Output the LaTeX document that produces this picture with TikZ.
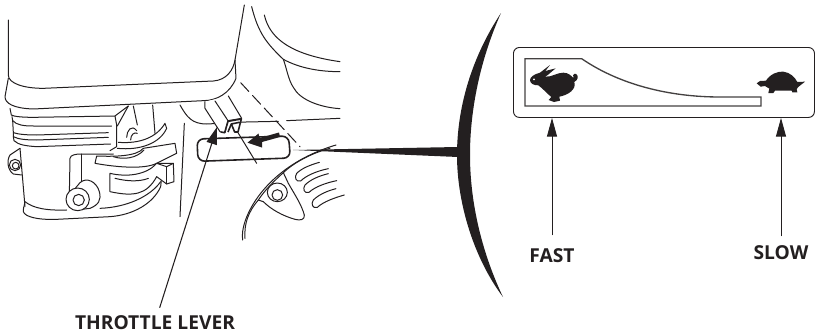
\documentclass[tikz,border=0pt]{standalone}
\usepackage{fontspec}
\setmainfont{Open Sans}
\usetikzlibrary{arrows.meta}
\definecolor{ink}{HTML}{231F20}
\tikzset{
  ln/.style={draw=ink,line width=0.75pt,line join=round,line cap=round},
  thk/.style={draw=ink,line width=1.2pt,line join=round},
  lbl/.style={inner sep=0pt,font=\bfseries\fontsize{14.4pt}{16pt}\selectfont,text=ink},
  ldr/.style={draw=ink,line width=0.7pt,-{Triangle[length=14pt,width=7.5pt]}}
}
\begin{document}
\begin{tikzpicture}[x=0.75pt,y=-0.75pt]
\useasboundingbox (0,0) rectangle (815,336);
% --- engine, coordinates of the 3x crop
\begin{scope}[scale=1/3]
% tank and lip
\draw[ln] (25,60) -- (25,225) .. controls (25,250) and (70,265) .. (130,265) -- (640,243) .. controls (680,240) and (700,210) .. (705,180) -- (733,15);
\draw[ln] (25,235) -- (15,290) .. controls (15,310) and (40,325) .. (100,327) -- (610,302) .. controls (650,302) and (690,280) .. (708,235) -- (705,180);
% fins
\draw[ln] (30,325) -- (34,345) .. controls (42,350) and (70,352) .. (100,352) -- (345,348) -- (385,318);
\draw[ln] (36,350) -- (38,362) .. controls (50,375) and (70,378) .. (100,378) -- (335,378);
\draw[ln] (38,362) -- (40,398) .. controls (55,403) and (80,405) .. (110,405) -- (325,398);
\draw[ln] (40,398) -- (40,410) .. controls (55,418) and (80,420) .. (110,420) -- (325,412);
\draw[ln] (40,410) -- (42,422) .. controls (55,435) and (80,438) .. (110,440) -- (332,432);
\draw[ln] (345,348) -- (350,375) -- (350,440) -- (330,452);
\draw[ln] (385,318) -- (352,378);
\draw[ln] (400,318) -- (412,375);
\draw[ln] (458,315) -- (465,400);
\draw[ln] (380,412) .. controls (380,392) and (395,372) .. (410,392);
\draw[ln] (392,420) .. controls (392,405) and (402,395) .. (412,400);
% crescent
\draw[ln] (355,427) .. controls (420,432) and (470,412) .. (495,370) -- (500,385) .. controls (480,430) and (420,452) .. (352,445);
% left lug
\draw[ln] (60,445) -- (30,465) .. controls (20,480) and (22,510) .. (40,522) -- (65,525);
\draw[ln] (45,495) circle (17);
\draw[ln] (47,497) circle (10);
% casing
\draw[ln] (60,445) -- (75,620);
\draw[ln] (75,605) .. controls (72,625) and (68,625) .. (70,635) .. controls (75,650) and (110,660) .. (170,658) -- (330,650) .. controls (400,645) and (460,610) .. (482,560) -- (484,540);
\draw[ln] (75,605) .. controls (100,625) and (140,632) .. (200,630);
\draw[ln] (300,625) .. controls (380,622) and (450,590) .. (482,545);
\draw[ln] (208,585) -- (210,475) .. controls (212,465) and (225,462) .. (245,462) -- (340,462);
\draw[ln] (245,462) -- (245,545);
% boss
\draw[ln,fill=white] (205,590) -- (240,548) .. controls (260,530) and (290,545) .. (298,575) .. controls (305,600) and (295,615) .. (270,625) -- (230,630) .. controls (205,625) and (195,605) .. (205,590) -- cycle;
\draw[ln,fill=white] (233,598) ellipse (35 and 34);
\draw[ln,fill=white] (236,600) circle (17);
% levers
\draw[ln,fill=white] (290,468) .. controls (340,470) and (410,470) .. (430,445) -- (525,430) -- (530,460) -- (470,490) .. controls (430,510) and (340,500) .. (285,490) -- cycle;
\draw[ln] (340,470) .. controls (370,480) and (410,475) .. (432,450);
\draw[ln,fill=white] (330,520) .. controls (380,532) and (440,525) .. (470,490) -- (520,490) -- (522,545) -- (500,552) -- (470,530) .. controls (440,585) and (400,590) .. (330,575) -- cycle;
\draw[ln] (500,500) -- (500,552);
\draw[ln] (470,490) -- (500,500) -- (520,490);
\draw[ln] (345,535) .. controls (385,545) and (420,545) .. (445,535);
% frame
\draw[ln] (553,370) -- (540,650);
\draw[ln] (540,315) .. controls (560,350) and (575,372) .. (620,372) -- (660,370);
\draw[ln] (690,367) -- (835,364);
\draw[ln] (860,362) -- (1020,355);
% upper right
\draw[ln] (755,20) .. controls (775,100) and (800,130) .. (850,178) .. controls (860,205) and (865,240) .. (880,262) .. controls (900,300) and (960,322) .. (1020,326);
\draw[ln] (793,45) .. controls (810,120) and (880,165) .. (1020,185);
\draw[ln] (850,178) .. controls (900,205) and (960,215) .. (1020,215);
% dashed
\draw[ln,dash pattern=on 9pt off 4pt] (722,248) -- (900,440);
% selector plate
\draw[thk,rounded corners=5pt] (591,417) -- (866,408) -- (871,474) -- (594,484) -- cycle;
% lever
\draw[ln,fill=white] (615,305) -- (615,325) -- (660,395) -- (675,398) -- (684,362) -- (725,355) -- (685,288);
\draw[ln] (645,303) -- (684,362);
\draw[thk,fill=white] (662,396) -- (674,398) -- (684,364) -- (724,357) -- (714,396) -- (704,396) -- (694,372) -- (718,367);
\draw[thk] (694,372) -- (684,396);
\draw[ln] (714,398) -- (770,490);
\end{scope}
% motion arrow
\fill[ink] (279,132.5) -- (280,137) -- (262,142) -- (262,147.5) -- (247.5,142.7) -- (258.5,133.5) -- (259.5,138) -- cycle;
% --- disc, crop offset
\begin{scope}[shift={(220,130)},scale=1/3]
\draw[ln] (68,330) .. controls (58,270) and (130,110) .. (348,45);
\draw[ln] (75,325) .. controls (72,280) and (85,245) .. (115,210) .. controls (135,180) and (160,155) .. (190,128) .. controls (230,90) and (290,65) .. (330,55);
\draw[ln] (190,128) -- (205,160) .. controls (225,195) and (245,225) .. (253,255) .. controls (255,270) and (240,272) .. (225,268) .. controls (190,258) and (155,240) .. (130,215) -- (115,210);
\draw[ln,fill=white] (172,187) ellipse (30 and 28);
\draw[ln] (172,195) circle (16);
\draw[ln] (298,97) .. controls (270,105) and (245,115) .. (230,130) .. controls (222,142) and (228,157) .. (242,153) .. controls (260,135) and (295,122) .. (325,116);
\draw[ln] (325,131) .. controls (295,138) and (270,150) .. (255,165) .. controls (247,177) and (253,192) .. (267,187) .. controls (285,170) and (320,158) .. (350,152);
\draw[ln] (348,176) .. controls (320,183) and (295,195) .. (280,210) .. controls (272,222) and (278,237) .. (292,232) .. controls (310,215) and (345,203) .. (373,195);
\end{scope}
% wedge and crescent
\fill[ink] (293,150) -- (458,147) -- (458,157) -- cycle;
\fill[ink] (501,13) .. controls (470,60) and (457,110) .. (457,155) .. controls (457,205) and (475,260) .. (503,297) .. controls (483,255) and (470,205) .. (470,155) .. controls (470,110) and (480,60) .. (501,13) -- cycle;
% --- plate
\node[draw=ink,line width=0.7pt,rounded corners=4.5pt,minimum width=225.75pt,minimum height=52.5pt,inner sep=0pt,anchor=north west] (plate) at (513,47) {};
\draw[draw=ink!85,line width=1pt,line join=miter] (525,58.7) -- (581.7,58.7) .. controls (620,85) and (670,97) .. (720,97) -- (761,97) -- (761,106) -- (525,106) -- cycle;
% rabbit
\begin{scope}[shift={(510,50)},scale=1/3]
\fill[ink] (60,90) .. controls (60,80) and (75,72) .. (90,68) -- (120,45) -- (106,63) -- (137,55) -- (112,76) -- (105,80) .. controls (125,82) and (140,68) .. (160,68) .. controls (175,68) and (185,78) .. (190,84) .. controls (186,70) and (198,66) .. (203,78) .. controls (204,88) and (198,94) .. (193,96) .. controls (200,118) and (175,135) .. (148,140) -- (150,152) -- (132,156) -- (116,150) -- (124,141) .. controls (110,130) and (97,114) .. (85,106) .. controls (70,106) and (60,100) .. (60,90) -- cycle;
\fill[white] (72,88) circle (3);
\end{scope}
% turtle
\begin{scope}[shift={(740,60)},scale=1/3]
\fill[ink] (50,70) -- (60,63) -- (78,62) .. controls (90,42) and (115,33) .. (130,35) .. controls (150,37) and (165,52) .. (172,66) -- (195,65) -- (176,80) -- (170,87) -- (172,97) -- (157,97) -- (155,92) -- (105,92) -- (100,99) -- (85,99) -- (88,86) -- (75,78) -- (62,80) -- cycle;
\end{scope}
% --- labels and leaders
\node[lbl] (lblT) at (155,323) {THROTTLE LEVER};
\node[lbl] (lblF) at (552,256) {FAST};
\node[lbl] (lblS) at (781,253) {SLOW};
\coordinate (lvTip) at (217,127);
\draw[draw=ink,line width=0.8pt,-{Triangle[length=13pt,width=8pt]}] ([xshift=3.5pt,yshift=6pt]lblT.north) -- (lvTip);
\draw[ldr] ([yshift=10pt]lblF.north) -- (lblF.north |- plate.south);
\draw[ldr] ([yshift=7pt]lblS.north) -- (lblS.north |- plate.south);
\end{tikzpicture}
\end{document}
